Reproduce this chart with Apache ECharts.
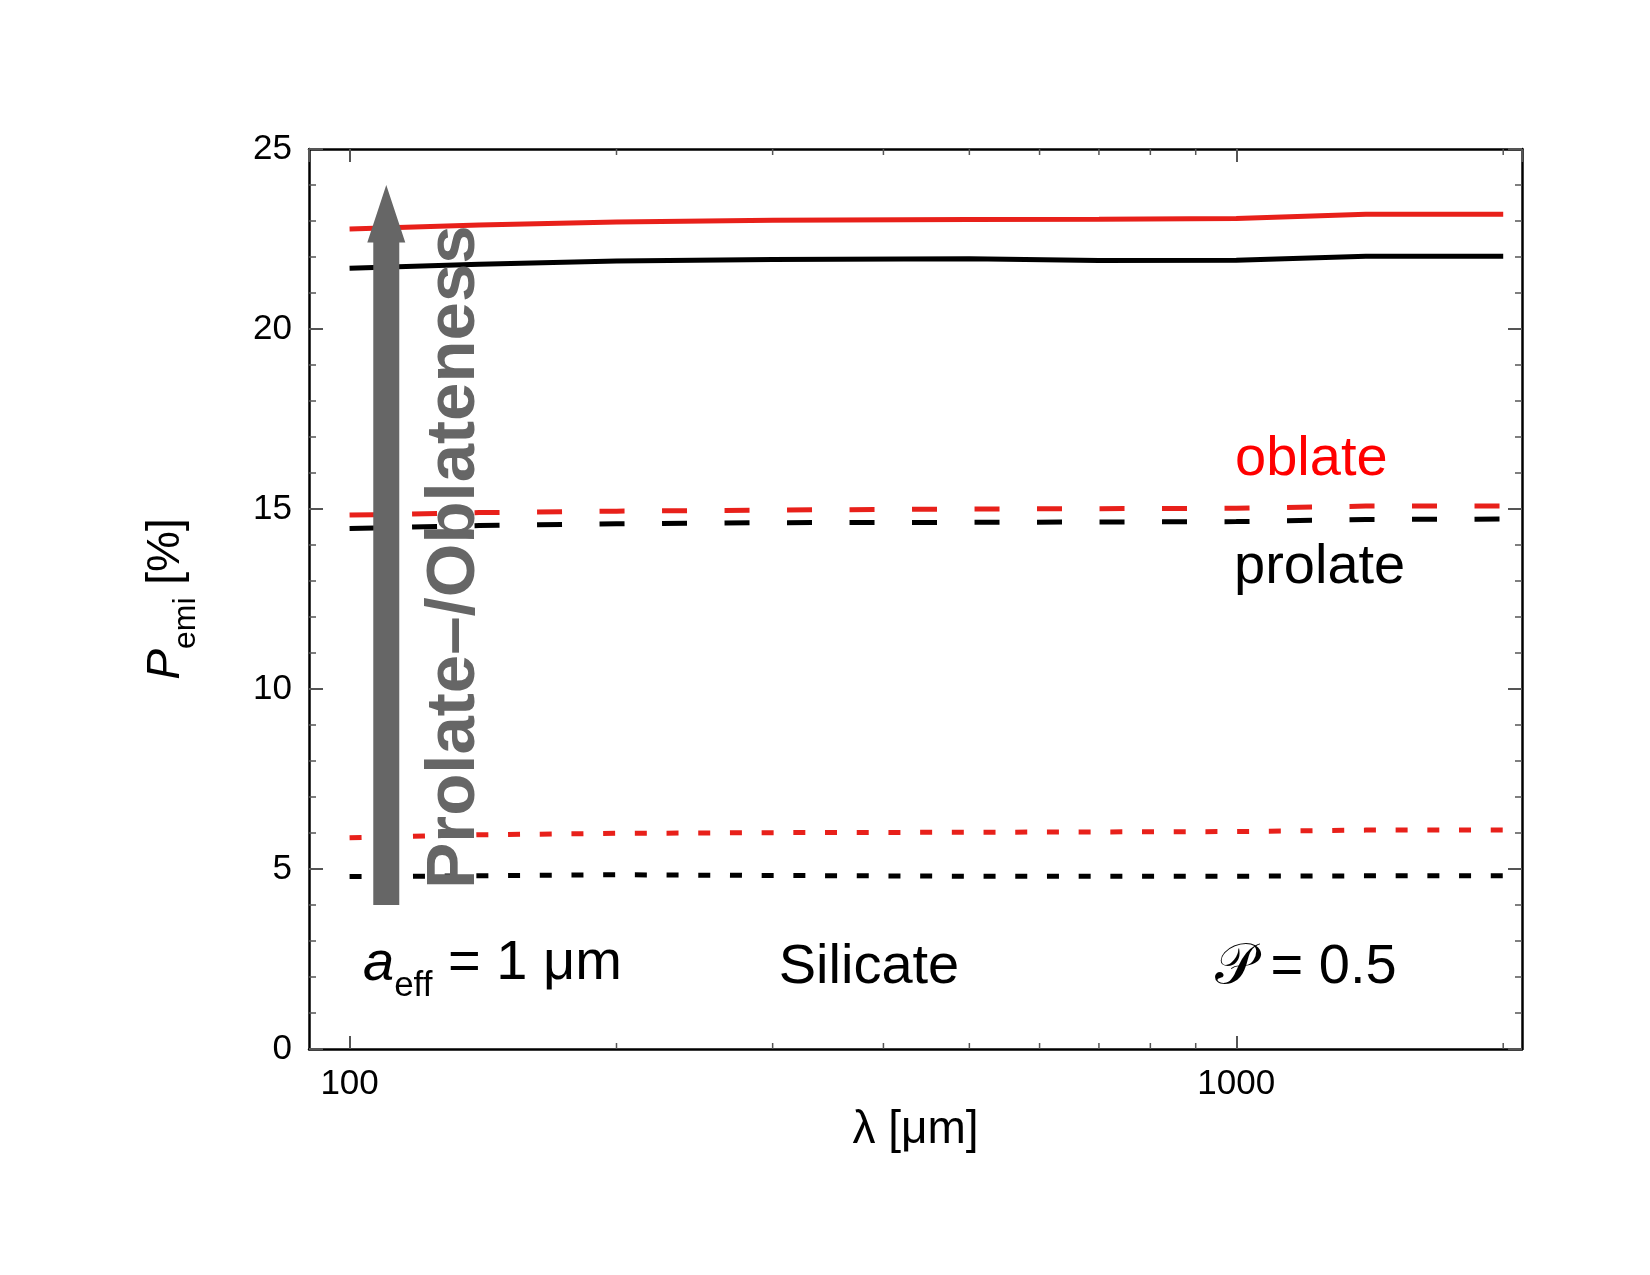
<!DOCTYPE html>
<html>
<head>
<meta charset="utf-8">
<script src="https://cdn.jsdelivr.net/npm/echarts@6/dist/echarts.min.js"></script>
<style>
  html, body { margin: 0; padding: 0; background: #fff; }
  #chart { width: 1650px; height: 1275px; }
</style>
</head>
<body>
<div id="chart"></div>
<script>
// wavelength grid [um] and emission polarisation [%]
const wavelength = [100, 140, 200, 300, 500, 700, 1000, 1400, 2000];
const oblateSolid = [22.78, 22.89, 22.97, 23.02, 23.04, 23.05, 23.07, 23.19, 23.19];
const prolateSolid = [21.69, 21.80, 21.89, 21.93, 21.95, 21.90, 21.91, 22.02, 22.02];
const oblateDashed = [14.83, 14.90, 14.94, 14.97, 15.00, 15.01, 15.02, 15.08, 15.08];
const prolateDashed = [14.46, 14.54, 14.59, 14.62, 14.63, 14.64, 14.65, 14.71, 14.72];
const oblateDotted = [5.87, 5.95, 5.99, 6.01, 6.02, 6.03, 6.04, 6.08, 6.08];
const prolateDotted = [4.79, 4.81, 4.84, 4.82, 4.80, 4.80, 4.80, 4.81, 4.81];

// minor ticks on the log axis (100 and 1000 are the labelled ones)
const xMinorTicks = [200, 300, 400, 500, 600, 700, 800, 900, 2000];

// arrow: x position and y range in data units
const arrowLambda = 110;
const arrowBottom = 4;
const arrowHeadBase = 22.4;
const arrowTip = 24;

const RED = '#e8201a';
const FONT = 'Liberation Sans, Arial, Helvetica, sans-serif';
const TICK = '#555';

const chart = echarts.init(document.getElementById('chart'));

const pairs = ys => wavelength.map((x, i) => [x, ys[i]]);

function lineSeries(name, ys, color, dash) {
  return {
    name: name,
    type: 'line',
    data: pairs(ys),
    showSymbol: false,
    symbol: 'none',
    lineStyle: { color: color, width: 5, type: dash, cap: 'butt' },
    z: 3
  };
}

const logAxis = (pos) => ({
  type: 'log',
  position: pos,
  min: 90,
  max: 2100,
  logBase: 10,
  axisLine: { show: true, onZero: false, lineStyle: { color: '#000', width: 2.5 } },
  axisTick: { show: true, inside: true, length: 13, lineStyle: { color: TICK, width: 2 } },
  minorTick: { show: false },
  splitLine: { show: false },
  minorSplitLine: { show: false },
  axisLabel: {
    show: pos === 'bottom',
    margin: 18,
    fontSize: 35,
    color: '#000',
    fontFamily: FONT,
    showMinLabel: false,
    showMaxLabel: false,
    formatter: v => String(Math.round(v))
  }
});

const valAxis = (pos) => ({
  type: 'value',
  position: pos,
  min: 0,
  max: 25,
  interval: 5,
  axisLine: { show: true, onZero: false, lineStyle: { color: '#000', width: 2.5 } },
  axisTick: { show: true, inside: true, length: 14, lineStyle: { color: TICK, width: 2 } },
  minorTick: { show: true, splitNumber: 5, length: 7, lineStyle: { color: TICK, width: 1.5 } },
  splitLine: { show: false },
  axisLabel: {
    show: pos === 'left',
    margin: 17,
    fontSize: 35,
    color: '#000',
    fontFamily: FONT
  }
});

const xBottom = logAxis('bottom');
xBottom.name = 'λ [μm]';
xBottom.nameLocation = 'middle';
xBottom.nameGap = 58;
xBottom.nameTextStyle = { fontSize: 46, color: '#000', fontFamily: FONT };

// subscripts: main tokens padded below, subscript padded above by the same amount
const yLeft = valAxis('left');
yLeft.name = '{i|P}{s|emi}{n| [%]}';
yLeft.nameLocation = 'middle';
yLeft.nameGap = 106;
yLeft.nameTextStyle = {
  color: '#000',
  fontFamily: FONT,
  rich: {
    i: { fontSize: 46, fontStyle: 'italic', lineHeight: 54, padding: [0, 0, 20, 0], fontFamily: FONT, color: '#000' },
    s: { fontSize: 32, lineHeight: 54, padding: [20, 0, 0, 0], fontFamily: FONT, color: '#000' },
    n: { fontSize: 46, lineHeight: 54, padding: [0, 0, 20, 0], fontFamily: FONT, color: '#000' }
  }
};

chart.setOption({
  animation: false,
  backgroundColor: '#fff',
  textStyle: { fontFamily: FONT },
  grid: { left: 309, right: 128, top: 149, bottom: 226, containLabel: false },
  xAxis: [xBottom, logAxis('top')],
  yAxis: [yLeft, valAxis('right')],
  series: [
    lineSeries('oblate solid', oblateSolid, RED, 'solid'),
    lineSeries('prolate solid', prolateSolid, '#000', 'solid'),
    lineSeries('oblate dashed', oblateDashed, RED, [25, 37.5]),
    lineSeries('prolate dashed', prolateDashed, '#000', [25, 37.5]),
    lineSeries('oblate dotted', oblateDotted, RED, [12, 19.7]),
    lineSeries('prolate dotted', prolateDotted, '#000', [12, 19.7]),
    {
      // minor ticks of the log axes, bottom and top
      type: 'custom',
      data: xMinorTicks.map(v => [v, 0]),
      silent: true,
      clip: false,
      z: 5,
      renderItem: function (params, api) {
        const b = api.coord([api.value(0), 0]);
        const t = api.coord([api.value(0), 25]);
        const st = { stroke: TICK, lineWidth: 1.5 };
        return {
          type: 'group',
          children: [
            { type: 'line', shape: { x1: b[0], y1: b[1], x2: b[0], y2: b[1] - 6 }, style: st },
            { type: 'line', shape: { x1: t[0], y1: t[1], x2: t[0], y2: t[1] + 6 }, style: st }
          ]
        };
      }
    }
  ]
});

// annotations
const pBot = chart.convertToPixel({ xAxisIndex: 0, yAxisIndex: 0 }, [arrowLambda, arrowBottom]);
const pBase = chart.convertToPixel({ xAxisIndex: 0, yAxisIndex: 0 }, [arrowLambda, arrowHeadBase]);
const pTip = chart.convertToPixel({ xAxisIndex: 0, yAxisIndex: 0 }, [arrowLambda, arrowTip]);
const cx = pBot[0];
const shaftHalf = 13;
const headHalf = 19;

function label(text, x, y, size, color, align, extra) {
  return Object.assign({
    type: 'text',
    x: x,
    y: y,
    z: 20,
    style: {
      text: text,
      fontSize: size,
      fontFamily: FONT,
      fill: color,
      align: align,
      textAlign: align,
      verticalAlign: 'middle',
      textVerticalAlign: 'middle'
    }
  }, extra || {});
}

chart.setOption({
  graphic: [
    {
      type: 'polygon',
      z: 15,
      shape: {
        points: [
          [cx - shaftHalf, pBot[1]],
          [cx - shaftHalf, pBase[1]],
          [cx - headHalf, pBase[1]],
          [cx, pTip[1]],
          [cx + headHalf, pBase[1]],
          [cx + shaftHalf, pBase[1]],
          [cx + shaftHalf, pBot[1]]
        ]
      },
      style: { fill: '#666666' }
    },
    {
      type: 'text',
      x: 455,
      y: 557,
      rotation: Math.PI / 2,
      z: 16,
      style: {
        text: 'Prolate–/Oblateness',
        fontSize: 69,
        fontWeight: 'bold',
        fontFamily: FONT,
        fill: '#666666',
        align: 'center',
        textAlign: 'center',
        verticalAlign: 'middle',
        textVerticalAlign: 'middle'
      }
    },
    label('oblate', 1235, 460, 56, '#ff0000', 'left'),
    label('prolate', 1234, 568, 56, '#000', 'left'),
    label('Silicate', 869, 968, 56, '#000', 'center'),
    label('𝒫 = 0.5', 1215, 968, 56, '#000', 'left'),
    {
      type: 'text',
      x: 363,
      y: 945,
      z: 20,
      style: {
        text: '{i|a}{s|eff}{n| = 1 μm}',
        fontFamily: FONT,
        fill: '#000',
        align: 'left',
        textAlign: 'left',
        verticalAlign: 'top',
        textVerticalAlign: 'top',
        rich: {
          i: { fontSize: 56, fontStyle: 'italic', lineHeight: 60, padding: [0, 0, 22, 0], fontFamily: FONT, fill: '#000' },
          s: { fontSize: 35, lineHeight: 60, padding: [22, 0, 0, 0], fontFamily: FONT, fill: '#000' },
          n: { fontSize: 56, lineHeight: 60, padding: [0, 0, 22, 0], fontFamily: FONT, fill: '#000' }
        }
      }
    }
  ]
});
</script>
</body>
</html>
